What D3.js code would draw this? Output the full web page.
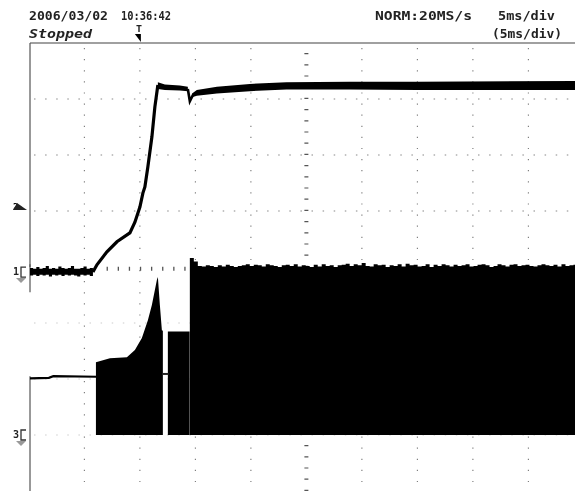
<!DOCTYPE html>
<html>
<head>
<meta charset="utf-8">
<style>html,body{margin:0;padding:0;background:#fff}svg{display:block}</style>
<script src="https://cdn.jsdelivr.net/npm/d3@7"></script>
</head>
<body>
<div id="chart"></div>
<script>
// time in ms from the trigger, level in divisions from screen centre
const riseTrace = [[-4.23,-0.09],[-3.87,0.04],[-2.97,0.27],[-2.07,0.45],[-0.9,0.61],[-0.45,0.80],[0,1.07],[0.27,1.32],[0.45,1.43],[0.72,1.79],[1.08,2.32],[1.35,2.86],[1.62,3.25]];
const dipTrace = [[4.32,3.18],[4.5,2.96],[4.77,3.07],[5.13,3.11]];
const plateauBand = [[1.62,3.18,3.3],[2.25,3.16,3.26],[3.6,3.15,3.24],[4.32,3.14,3.22]];
const recoveryBand = [[4.7,3.03,3.1],[5.13,3.06,3.16],[6.94,3.1,3.22],[9.9,3.14,3.27],[13.2,3.17,3.3],[18.9,3.17,3.31],[25,3.16,3.31],[39.2,3.16,3.32]];
const baseStart = -9.9, baseStep = 0.27;
const baseNoiseHigh = [-0.02,-0.03,0.0,-0.03,-0.02,0.02,-0.03,-0.02,-0.03,0.01,-0.02,-0.03,-0.02,0.02,-0.03,-0.03,-0.02,0.01,-0.03,-0.02,0.02];
const baseNoiseLow = [-0.15,-0.14,-0.16,-0.14,-0.15,-0.14,-0.17,-0.14,-0.15,-0.14,-0.16,-0.14,-0.15,-0.14,-0.15,-0.17,-0.14,-0.15,-0.14,-0.16,-0.14];
const lowerBase = [[-9.9,-1.99],[-8.2,-1.98],[-7.8,-1.95],[-3.9,-1.96]];
const burstOne = [[-3.96,-1.70],[-2.7,-1.63],[-1.17,-1.61],[-0.45,-1.48],[0.18,-1.27],[0.72,-0.95],[1.08,-0.68],[1.53,-0.23],[1.62,-0.18],[1.8,-0.68],[1.98,-1.13],[2.07,-1.14]];
const burstTwo = [[2.52,-1.15],[4.48,-1.15]];
const gapBridge = [[2.0,-1.91],[2.6,-1.91]];
const noiseStart = 4.5, noiseStep = 0.36;
const noiseTop = [0.16,0.10,0.02,0.01,0.03,0.02,0.00,0.03,0.01,0.04,0.02,0.00,0.02,0.03,0.05,0.02,0.04,0.03,0.01,0.05,0.03,0.02,0.00,0.03,0.04,0.02,0.05,0.01,0.03,0.02,0.00,0.04,0.01,0.05,0.02,0.03,0.00,0.03,0.04,0.06,0.02,0.05,0.03,0.07,0.02,0.01,0.05,0.03,0.04,0.00,0.03,0.02,0.05,0.01,0.06,0.03,0.04,0.01,0.02,0.05,0.00,0.04,0.02,0.05,0.03,0.01,0.04,0.02,0.03,0.05,0.01,0.02,0.04,0.05,0.03,0.00,0.02,0.05,0.03,0.01,0.04,0.05,0.02,0.03,0.04,0.02,0.01,0.03,0.05,0.03,0.02,0.04,0.01,0.05,0.02,0.03,0.04,0.02,0.05,0.03];
const floorLevel = -3;
const gridTimes = [-5,0,5,10,20,25,30,35];
const centreTime = 15;
const gridLevels = [3,2,1,-1,-2,-3];
const frameRuns = [[4,0],[0.05,-0.45],[-1.95,-4]];
const headerDate = "2006/03/02", headerClock = "10:36:42", headerState = "Stopped";
const headerMode = "NORM:20MS/s", headerDiv = "5ms/div", headerDivAlt = "(5ms/div)";
const channelLabels = ["1","3"];

const W = 575, H = 491;
const x = d3.scaleLinear().domain([-9.9,40.1]).range([30,585]);
const y = d3.scaleLinear().domain([-4,4]).range([491,43]);

const svg = d3.select("#chart").append("svg").attr("width",W).attr("height",H);
svg.append("defs").append("filter").attr("id","b").attr("x","-2%").attr("y","-2%").attr("width","104%").attr("height","104%")
  .append("feGaussianBlur").attr("stdDeviation",0.6);
const g = svg.append("g").attr("filter","url(#b)");

// graticule
g.selectAll(".vg").data(gridTimes).join("line")
  .attr("x1",d=>x(d)).attr("x2",d=>x(d)).attr("y1",y(4)+5).attr("y2",H)
  .attr("stroke","#777").attr("stroke-width",1.1).attr("stroke-dasharray","1.2 9.9");
g.selectAll(".hg").data(gridLevels).join("line")
  .attr("x1",x.range()[0]+4).attr("x2",W).attr("y1",d=>y(d)).attr("y2",d=>y(d))
  .attr("stroke",d=>d>0?"#888":"#ccc").attr("stroke-width",1.1).attr("stroke-dasharray","1.5 9.6");
// centre cross: short ticks across each axis
g.append("line").attr("x1",x(-3)).attr("x2",x(4.5)).attr("y1",y(-0.03)).attr("y2",y(-0.03))
  .attr("stroke","#555").attr("stroke-width",4).attr("stroke-dasharray","1.3 9.8");
g.append("line").attr("x1",x(centreTime)).attr("x2",x(centreTime)).attr("y1",y(4)+10).attr("y2",H)
  .attr("stroke","#555").attr("stroke-width",4).attr("stroke-dasharray","1.2 10");

// frame
g.append("line").attr("x1",30).attr("x2",W).attr("y1",y(4)).attr("y2",y(4)).attr("stroke","#444").attr("stroke-width",1.1);
g.selectAll(".fr").data(frameRuns).join("line")
  .attr("x1",30).attr("x2",30).attr("y1",d=>y(d[0])).attr("y2",d=>y(d[1]))
  .attr("stroke","#555").attr("stroke-width",1.2);

// lower trace
const edge = d3.area().x(d=>x(d[0])).y0(y(floorLevel)).y1(d=>y(d[1]));
g.append("path").attr("d",edge(burstOne)).attr("fill","#000");
g.append("path").attr("d",edge(burstTwo)).attr("fill","#000");
const noisePts = noiseTop.map((v,i)=>[noiseStart+i*noiseStep,v]);
g.append("path").attr("d",edge.curve(d3.curveStepAfter)(noisePts)).attr("fill","#000");
edge.curve(d3.curveLinear);
const ln = d3.line().x(d=>x(d[0])).y(d=>y(d[1]));
g.append("path").attr("d",ln(lowerBase)).attr("fill","none").attr("stroke","#000").attr("stroke-width",2.2);
g.append("path").attr("d",ln(gapBridge)).attr("fill","none").attr("stroke","#222").attr("stroke-width",2);

// upper trace
g.append("path").attr("d",ln(riseTrace)).attr("fill","none").attr("stroke","#000").attr("stroke-width",3.2);
g.append("path").attr("d",ln(dipTrace)).attr("fill","none").attr("stroke","#000").attr("stroke-width",2.6);
const band = d3.area().x(d=>x(d[0])).y0(d=>y(d[1])).y1(d=>y(d[2]));
g.append("path").attr("d",band(plateauBand)).attr("fill","#000");
g.append("path").attr("d",band(recoveryBand)).attr("fill","#000");
const basePts = baseNoiseHigh.map((v,i)=>[baseStart+i*baseStep*1.05,baseNoiseLow[i],v]);
g.append("path").attr("d",band.curve(d3.curveStepAfter)(basePts)).attr("fill","#000");

// header text
const txt = (s,px,py,len,o={}) => g.append("text").text(s).attr("x",px).attr("y",py)
  .attr("textLength",len).attr("lengthAdjust","spacingAndGlyphs")
  .attr("font-family",o.f||"'DejaVu Sans Mono',monospace").attr("font-size",o.s||12)
  .attr("font-weight",o.w||"bold").attr("font-style",o.i||"normal").attr("fill",o.c||"#222");
txt(headerDate,29,20,79);
txt(headerClock,121,20,50,{s:13});
txt(headerState,29,38,63,{i:"italic",s:13});
txt(headerMode,375,20,97);
txt(headerDiv,498,20,57);
txt(headerDivAlt,492,38,70);

// trigger marker
txt("T",136,32,6,{s:9});
g.append("path").attr("d",d3.line()([[x(0)-5,y(4)-9],[x(0)+1,y(4)-9],[x(0)+1,y(4)-1]])).attr("fill","#000");

// channel markers
g.append("text").text("2").attr("x",13).attr("y",210).attr("font-size",9).attr("font-weight","bold").attr("font-family","'DejaVu Sans Mono',monospace");
g.append("path").attr("d",d3.line()([[17,203],[27,210],[13,210]])).attr("fill","#222");
channelLabels.forEach((t,i)=>{
  const cy = y(i===0?-0.09:floorLevel);
  g.append("text").text(t).attr("x",13).attr("y",cy+3).attr("font-size",10).attr("font-weight","bold").attr("font-family","'DejaVu Sans Mono',monospace").attr("fill","#222");
  g.append("path").attr("d",`M26 ${cy-5}H21V${cy+5}H26`).attr("fill","none").attr("stroke","#333").attr("stroke-width",1.3);
  g.append("path").attr("d",`M16 ${cy+6}H26L21 ${cy+11}Z`).attr("fill","#999");
});
</script>
</body>
</html>
